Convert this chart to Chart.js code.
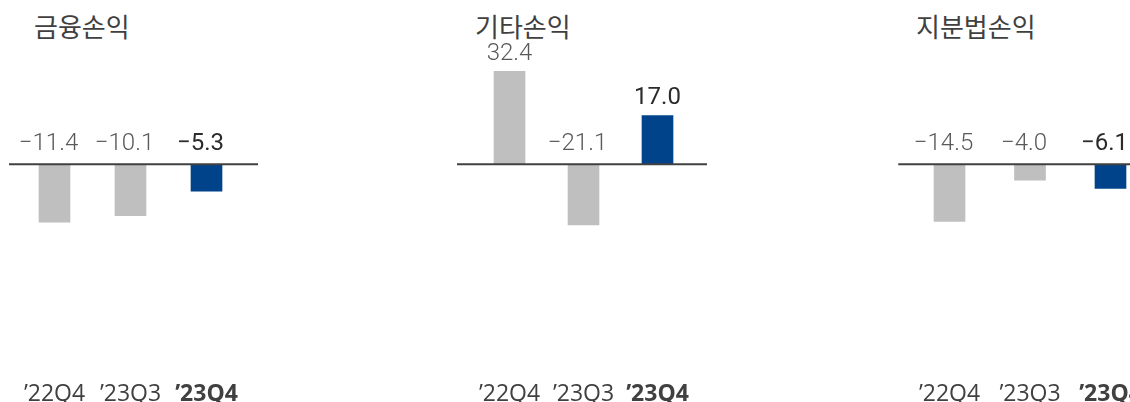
<!DOCTYPE html>
<html>
<head>
<meta charset="utf-8">
<script src="https://cdn.jsdelivr.net/npm/chart.js@4"></script>
<style>
  html, body { margin: 0; padding: 0; background: #fff; overflow: hidden; width: 1130px; height: 402px; }
  .box { position: absolute; top: 0; height: 418px; }
  .title { position: absolute; top: 11px; font-family: "Noto Sans CJK KR", sans-serif; font-size: 26px; line-height: 30px; color: #404040; white-space: nowrap; }
</style>
</head>
<body>
<div class="title" style="left:34px">금융손익</div>
<div class="title" style="left:475px">기타손익</div>
<div class="title" style="left:916px">지분법손익</div>
<div class="box" style="left:0px;width:280px"><canvas id="c1"></canvas></div>
<div class="box" style="left:440px;width:290px"><canvas id="c2"></canvas></div>
<div class="box" style="left:880px;width:280px"><canvas id="c3"></canvas></div>
<script>
const quarters = ['\u201922Q4', '\u201923Q3', '\u201923Q4'];
const financeValues = [-11.4, -10.1, -5.3];
const otherValues = [32.4, -21.1, 17.0];
const equityValues = [-14.5, -4.0, -6.1];
const current = 2;

const grey = '#bfbfbf';
const blue = '#00438a';

const fmt = (v) => (v < 0 ? '\u2212' : '') + Math.abs(v).toFixed(1);

// value labels: above bar top for positives, above the zero line for negatives
const labelPlugin = {
  id: 'labels',
  afterDatasetsDraw(chart) {
    const ctx = chart.ctx;
    const meta = chart.getDatasetMeta(0);
    const data = chart.data.datasets[0].data;
    const zero = chart.scales.y.getPixelForValue(0);
    ctx.save();
    ctx.textAlign = 'center';
    ctx.textBaseline = 'alphabetic';
    meta.data.forEach((bar, i) => {
      const v = data[i];
      const hl = i === current;
      ctx.font = (hl ? '400 ' : '300 ') + '24px Roboto';
      ctx.fillStyle = hl ? '#2b2b2b' : '#595959';
      const x = bar.x + (v < 0 ? -6 : 0);
      const y = v > 0 ? bar.y - 11 : zero - 14;
      ctx.fillText(fmt(v), x, y);
    });
    ctx.restore();
  }
};

const baselinePlugin = {
  id: 'baseline',
  afterDatasetsDraw(chart, args, opts) {
    const ctx = chart.ctx;
    const y = chart.scales.y.getPixelForValue(0);
    ctx.save();
    ctx.strokeStyle = '#404040';
    ctx.lineWidth = 2;
    ctx.beginPath();
    ctx.moveTo(chart.chartArea.left - opts.extL, y);
    ctx.lineTo(chart.chartArea.right + opts.extR, y);
    ctx.stroke();
    ctx.restore();
  }
};

const makeChart = (id, values, min, max, padL, padR, extL, extR) => {
  return new Chart(id, {
    type: 'bar',
    data: {
      labels: quarters,
      datasets: [{
        data: values,
        backgroundColor: values.map((v, i) => i === current ? blue : grey),
        barThickness: 31,
        borderWidth: 0
      }]
    },
    options: {
      responsive: true,
      maintainAspectRatio: false,
      animation: false,
      layout: { padding: { left: padL, right: padR, top: 0, bottom: 0 } },
      plugins: {
        legend: { display: false },
        tooltip: { enabled: false },
        baseline: { extL: extL, extR: extR }
      },
      scales: {
        x: {
          grid: { display: false, drawTicks: false },
          border: { display: false },
          ticks: {
            padding: 10,
            color: '#404040',
            maxRotation: 0,
            font: (c) => ({ family: 'Open Sans', size: 23, lineHeight: 1.2, weight: c.index === current ? 'bold' : 'normal' })
          }
        },
        y: { display: false, min: min, max: max }
      }
    },
    plugins: [labelPlugin, baselinePlugin]
  });
};

makeChart('c1', financeValues, -40.56, 32.34, 16.5, 35.5, 7.5, 13.5);
makeChart('c2', otherValues, -71.7, 57.19, 32.5, 35.5, 15.5, 12.5);
makeChart('c3', equityValues, -52.4, 41.79, 29.25, 9.25, 11, 20);
</script>
</body>
</html>
